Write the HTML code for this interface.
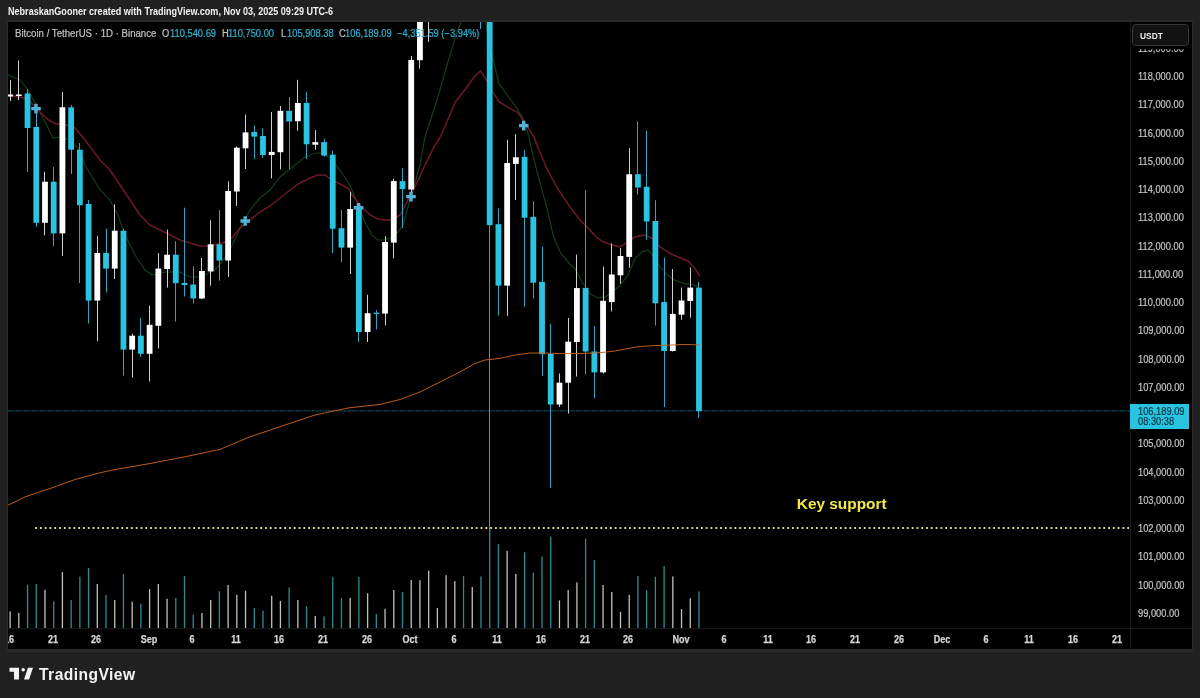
<!DOCTYPE html>
<html><head><meta charset="utf-8"><title>BTCUSDT chart</title>
<style>
html,body{margin:0;padding:0;}
body{width:1200px;height:698px;background:#202020;overflow:hidden;position:relative;font-family:"Liberation Sans",sans-serif;}
#hdr{position:absolute;left:8px;top:5.7px;font-size:10.2px;font-weight:bold;color:#f2f2f2;white-space:nowrap;line-height:12px;transform:scaleX(0.889);transform-origin:0 0;}
#chart{position:absolute;left:8px;top:22px;width:1184px;height:627px;background:#000;overflow:hidden;}
#chart svg{position:absolute;left:-8px;top:-22px;filter:blur(0.4px);}
#legend{position:absolute;left:-8px;top:5.8px;font-size:10px;color:#c2c2c2;white-space:nowrap;line-height:12px;-webkit-text-stroke:0.2px currentColor;}
#legend span{position:absolute;top:0;transform:scaleX(0.93);transform-origin:0 0;}
#legend .v{color:#2cb5d0;transform:scaleX(0.933);}
#axisv{position:absolute;left:1122px;top:0;width:1px;height:627px;background:#181818;}
#axish{position:absolute;left:0;top:605.5px;width:1184px;height:1px;background:#181818;}
.pl{position:absolute;left:1129.5px;font-size:10.5px;line-height:12px;color:#c6c6c6;white-space:nowrap;transform:scaleX(0.885);transform-origin:0 0;-webkit-text-stroke:0.2px currentColor;}
.tl{position:absolute;top:611.6px;font-size:10px;line-height:12px;color:#d6d6d6;white-space:nowrap;transform:translateX(-50%) scaleX(0.9);margin-left:-9px;font-weight:bold;-webkit-text-stroke:0.25px currentColor;}
#usdt{position:absolute;left:1124.2px;top:2.1px;width:56.8px;height:21.6px;border:1px solid #363636;border-radius:3.5px;background:#121212;box-sizing:border-box;box-shadow:0 3.2px 0 0 #000;z-index:3;}
#usdt span{position:absolute;left:6.8px;top:5.2px;font-size:9.8px;line-height:12px;color:#ededed;font-weight:bold;transform:scaleX(0.855);transform-origin:0 0;}
#plab{position:absolute;left:1122.3px;top:382px;width:59px;height:25px;background:#29c4e2;color:#06323d;font-size:10.5px;line-height:10.7px;-webkit-text-stroke:0.2px currentColor;}
#plab div{position:absolute;left:7.3px;white-space:nowrap;transform:scaleX(0.885);transform-origin:0 0;}
#key{position:absolute;left:788.8px;top:472.7px;font-size:15.4px;line-height:18px;font-weight:bold;color:#f2ea4a;white-space:nowrap;}
#logo{position:absolute;left:0;top:660px;}
#logot{position:absolute;left:39px;top:664.8px;font-size:15.6px;line-height:20px;font-weight:bold;color:#f4f4f4;letter-spacing:0.45px;white-space:nowrap;}
#band{position:absolute;left:7px;top:19.5px;width:1186px;height:632px;background:#282828;}
</style></head><body>
<div id="hdr">NebraskanGooner created with TradingView.com, Nov 03, 2025 09:29 UTC-6</div>
<div id="band"></div>
<div id="chart">
<svg width="1200" height="698" viewBox="0 0 1200 698">
<polyline points="8.0,75.0 20.0,80.0 28.0,90.0 36.0,105.0 45.0,122.0 53.0,138.0 58.0,137.0 70.0,140.0 80.0,150.0 85.0,165.0 88.0,170.0 100.0,190.0 110.0,200.0 118.0,215.0 125.0,235.0 135.0,255.0 145.0,270.0 152.0,275.0 165.0,272.0 180.0,272.0 190.0,277.0 200.0,277.0 205.0,275.0 215.0,270.0 222.0,262.0 230.0,250.0 240.0,228.0 250.0,210.0 260.0,198.0 270.0,190.0 280.0,177.0 295.0,165.0 305.0,157.0 315.0,153.0 322.0,153.0 330.0,158.0 340.0,170.0 348.0,182.0 352.0,190.0 358.0,205.0 365.0,222.0 372.0,235.0 378.0,240.0 385.0,240.0 390.0,238.0 398.0,232.0 403.0,225.0 408.0,207.0 413.0,190.0 420.0,165.0 425.0,137.0 437.0,100.0 447.0,65.0 455.4,36.8 465.5,10.0" fill="none" stroke="#153d19" stroke-width="1.2"/>
<polyline points="484.0,10.0 487.0,31.7 494.0,63.6 499.0,83.7 507.4,95.4 517.5,108.9 524.0,120.6 529.0,137.0 530.9,146.8 539.3,180.3 547.6,210.5 553.0,235.0 556.0,243.0 561.0,253.4 569.4,263.5 575.0,268.6 582.0,282.0 590.0,293.8 598.0,298.0 605.0,297.5 612.0,292.0 620.0,285.4 628.0,275.3 635.0,258.6 642.0,251.9 648.0,250.0 655.0,258.0 660.0,267.0 668.0,275.3 675.0,280.4 685.0,283.7 693.0,284.5 699.0,287.0" fill="none" stroke="#153d19" stroke-width="1.2"/>
<polyline points="8.0,95.0 20.0,97.0 28.0,99.0 36.0,108.0 45.0,117.0 50.0,121.0 56.0,124.0 62.0,124.0 70.0,126.0 75.0,128.0 85.0,140.0 100.0,160.0 110.0,170.0 120.0,185.0 130.0,200.0 140.0,215.0 150.0,225.0 160.0,230.0 170.0,235.0 180.0,240.0 190.0,243.0 200.0,246.0 208.0,246.0 215.0,245.0 225.0,242.0 232.0,238.0 240.0,228.0 250.0,220.0 260.0,212.0 270.0,206.0 280.0,198.0 290.0,190.0 300.0,183.0 310.0,178.0 318.0,175.0 325.0,175.0 332.0,180.0 340.0,184.0 348.0,188.0 352.0,195.0 360.0,205.0 370.0,215.0 378.0,219.0 385.0,220.0 390.0,220.0 395.0,218.0 400.0,215.0 408.0,200.0 415.0,187.0 425.0,165.0 435.0,145.0 440.4,137.0 455.4,102.0 467.0,87.0 474.0,77.0 480.6,71.0 485.6,78.7 494.0,93.8 499.0,102.0 510.8,108.9 517.5,112.0 525.8,124.0 534.0,137.0 537.6,146.8 547.6,170.2 557.7,188.7 560.0,192.0 570.0,207.0 580.0,220.0 585.0,225.0 590.0,230.0 596.0,236.8 603.0,241.8 612.0,245.1 620.0,246.8 628.0,241.8 635.0,236.8 645.0,235.0 652.0,238.4 660.0,246.8 670.0,253.5 680.0,257.7 688.0,261.0 695.0,268.6 700.0,276.0" fill="none" stroke="#6e1825" stroke-width="1.5"/>
<line x1="8" x2="1130" y1="410.9" y2="410.9" stroke="#2bb6d2" stroke-opacity="0.7" stroke-width="1" stroke-dasharray="0.9 0.7"/>
<rect x="9.45" y="611.3" width="1.3" height="16.7" fill="#c0c0bc"/>
<rect x="18.17" y="613.0" width="1.3" height="15.0" fill="#c0c0bc"/>
<rect x="26.89" y="584.8" width="1.3" height="43.2" fill="#2d8c93"/>
<rect x="35.61" y="584.1" width="1.3" height="43.9" fill="#2d8c93"/>
<rect x="44.33" y="589.8" width="1.3" height="38.2" fill="#c0c0bc"/>
<rect x="53.05" y="601.2" width="1.3" height="26.8" fill="#2d8c93"/>
<rect x="61.77" y="572.2" width="1.3" height="55.8" fill="#c0c0bc"/>
<rect x="70.49" y="600.0" width="1.3" height="28.0" fill="#2d8c93"/>
<rect x="79.21" y="576.6" width="1.3" height="51.4" fill="#2d8c93"/>
<rect x="87.93" y="568.0" width="1.3" height="60.0" fill="#2d8c93"/>
<rect x="96.65" y="584.0" width="1.3" height="44.0" fill="#c0c0bc"/>
<rect x="105.37" y="595.0" width="1.3" height="33.0" fill="#2d8c93"/>
<rect x="114.09" y="600.0" width="1.3" height="28.0" fill="#c0c0bc"/>
<rect x="122.81" y="573.9" width="1.3" height="54.1" fill="#2d8c93"/>
<rect x="131.53" y="601.7" width="1.3" height="26.3" fill="#c0c0bc"/>
<rect x="140.25" y="603.7" width="1.3" height="24.3" fill="#2d8c93"/>
<rect x="148.97" y="589.1" width="1.3" height="38.9" fill="#c0c0bc"/>
<rect x="157.69" y="584.0" width="1.3" height="44.0" fill="#c0c0bc"/>
<rect x="166.41" y="598.7" width="1.3" height="29.3" fill="#c0c0bc"/>
<rect x="175.13" y="597.9" width="1.3" height="30.1" fill="#2d8c93"/>
<rect x="183.85" y="576.1" width="1.3" height="51.9" fill="#2d8c93"/>
<rect x="192.57" y="614.6" width="1.3" height="13.4" fill="#2d8c93"/>
<rect x="201.29" y="613.0" width="1.3" height="15.0" fill="#c0c0bc"/>
<rect x="210.01" y="600.0" width="1.3" height="28.0" fill="#c0c0bc"/>
<rect x="218.73" y="591.2" width="1.3" height="36.8" fill="#2d8c93"/>
<rect x="227.45" y="585.0" width="1.3" height="43.0" fill="#c0c0bc"/>
<rect x="236.17" y="594.8" width="1.3" height="33.2" fill="#c0c0bc"/>
<rect x="244.89" y="590.7" width="1.3" height="37.3" fill="#c0c0bc"/>
<rect x="253.61" y="607.9" width="1.3" height="20.1" fill="#2d8c93"/>
<rect x="262.33" y="610.8" width="1.3" height="17.2" fill="#2d8c93"/>
<rect x="271.05" y="595.7" width="1.3" height="32.3" fill="#c0c0bc"/>
<rect x="279.77" y="600.9" width="1.3" height="27.1" fill="#c0c0bc"/>
<rect x="288.49" y="587.5" width="1.3" height="40.5" fill="#2d8c93"/>
<rect x="297.21" y="600.0" width="1.3" height="28.0" fill="#c0c0bc"/>
<rect x="305.93" y="606.2" width="1.3" height="21.8" fill="#2d8c93"/>
<rect x="314.65" y="616.0" width="1.3" height="12.0" fill="#c0c0bc"/>
<rect x="323.37" y="616.3" width="1.3" height="11.7" fill="#2d8c93"/>
<rect x="332.09" y="576.9" width="1.3" height="51.1" fill="#2d8c93"/>
<rect x="340.81" y="597.9" width="1.3" height="30.1" fill="#2d8c93"/>
<rect x="349.53" y="597.9" width="1.3" height="30.1" fill="#c0c0bc"/>
<rect x="358.25" y="576.9" width="1.3" height="51.1" fill="#2d8c93"/>
<rect x="366.97" y="593.2" width="1.3" height="34.8" fill="#c0c0bc"/>
<rect x="375.69" y="613.8" width="1.3" height="14.2" fill="#2d8c93"/>
<rect x="384.41" y="608.8" width="1.3" height="19.2" fill="#c0c0bc"/>
<rect x="393.13" y="590.0" width="1.3" height="38.0" fill="#c0c0bc"/>
<rect x="401.85" y="592.0" width="1.3" height="36.0" fill="#2d8c93"/>
<rect x="410.57" y="579.9" width="1.3" height="48.1" fill="#c0c0bc"/>
<rect x="419.29" y="580.3" width="1.3" height="47.7" fill="#c0c0bc"/>
<rect x="428.01" y="570.7" width="1.3" height="57.3" fill="#c0c0bc"/>
<rect x="436.73" y="607.9" width="1.3" height="20.1" fill="#c0c0bc"/>
<rect x="445.45" y="575.2" width="1.3" height="52.8" fill="#c0c0bc"/>
<rect x="454.17" y="581.1" width="1.3" height="46.9" fill="#c0c0bc"/>
<rect x="462.89" y="576.1" width="1.3" height="51.9" fill="#2d8c93"/>
<rect x="471.61" y="587.0" width="1.3" height="41.0" fill="#c0c0bc"/>
<rect x="480.33" y="576.4" width="1.3" height="51.6" fill="#2d8c93"/>
<rect x="489.05" y="529.0" width="1.3" height="99.0" fill="#2d8c93"/>
<rect x="497.77" y="544.2" width="1.3" height="83.8" fill="#2d8c93"/>
<rect x="506.49" y="550.9" width="1.3" height="77.1" fill="#c0c0bc"/>
<rect x="515.21" y="573.9" width="1.3" height="54.1" fill="#c0c0bc"/>
<rect x="523.93" y="552.3" width="1.3" height="75.7" fill="#2d8c93"/>
<rect x="532.65" y="572.7" width="1.3" height="55.3" fill="#2d8c93"/>
<rect x="541.37" y="556.5" width="1.3" height="71.5" fill="#2d8c93"/>
<rect x="550.09" y="536.7" width="1.3" height="91.3" fill="#2d8c93"/>
<rect x="558.81" y="600.4" width="1.3" height="27.6" fill="#c0c0bc"/>
<rect x="567.53" y="590.0" width="1.3" height="38.0" fill="#c0c0bc"/>
<rect x="576.25" y="582.4" width="1.3" height="45.6" fill="#c0c0bc"/>
<rect x="584.97" y="538.7" width="1.3" height="89.3" fill="#2d8c93"/>
<rect x="593.69" y="560.1" width="1.3" height="67.9" fill="#2d8c93"/>
<rect x="602.41" y="585.0" width="1.3" height="43.0" fill="#c0c0bc"/>
<rect x="611.13" y="592.0" width="1.3" height="36.0" fill="#c0c0bc"/>
<rect x="619.85" y="611.8" width="1.3" height="16.2" fill="#c0c0bc"/>
<rect x="628.57" y="594.8" width="1.3" height="33.2" fill="#c0c0bc"/>
<rect x="637.29" y="576.1" width="1.3" height="51.9" fill="#2d8c93"/>
<rect x="646.01" y="590.0" width="1.3" height="38.0" fill="#2d8c93"/>
<rect x="654.73" y="576.9" width="1.3" height="51.1" fill="#2d8c93"/>
<rect x="663.45" y="566.0" width="1.3" height="62.0" fill="#2d8c93"/>
<rect x="672.17" y="576.4" width="1.3" height="51.6" fill="#c0c0bc"/>
<rect x="680.89" y="609.1" width="1.3" height="18.9" fill="#c0c0bc"/>
<rect x="689.61" y="598.2" width="1.3" height="29.8" fill="#c0c0bc"/>
<rect x="698.33" y="591.5" width="1.3" height="36.5" fill="#2d8c93"/>
<rect x="10" y="80.0" width="1" height="21.0" fill="#d0d0d0"/>
<rect x="7.20" y="94.5" width="5.8" height="2.0" fill="#ffffff"/>
<rect x="18" y="60.5" width="1" height="39.5" fill="#d0d0d0"/>
<rect x="15.92" y="94.5" width="5.8" height="1.5" fill="#ffffff"/>
<rect x="27" y="89.0" width="1" height="83.0" fill="#2aa8c3"/>
<rect x="24.64" y="93.5" width="5.8" height="34.5" fill="#29c4e2"/>
<rect x="36" y="108.0" width="1" height="119.0" fill="#2aa8c3"/>
<rect x="33.36" y="127.0" width="5.8" height="95.8" fill="#29c4e2"/>
<rect x="44" y="171.7" width="1" height="63.7" fill="#d0d0d0"/>
<rect x="42.08" y="181.7" width="5.8" height="41.1" fill="#ffffff"/>
<rect x="53" y="167.0" width="1" height="79.3" fill="#2aa8c3"/>
<rect x="50.80" y="181.7" width="5.8" height="51.7" fill="#29c4e2"/>
<rect x="62" y="91.9" width="1" height="163.9" fill="#d0d0d0"/>
<rect x="59.52" y="107.3" width="5.8" height="126.1" fill="#ffffff"/>
<rect x="71" y="105.0" width="1" height="69.0" fill="#2aa8c3"/>
<rect x="68.24" y="107.3" width="5.8" height="42.4" fill="#29c4e2"/>
<rect x="79" y="143.0" width="1" height="140.0" fill="#2aa8c3"/>
<rect x="76.96" y="149.7" width="5.8" height="55.5" fill="#29c4e2"/>
<rect x="88" y="200.0" width="1" height="123.6" fill="#2aa8c3"/>
<rect x="85.68" y="204.0" width="5.8" height="96.6" fill="#29c4e2"/>
<rect x="97" y="236.0" width="1" height="105.2" fill="#d0d0d0"/>
<rect x="94.40" y="253.0" width="5.8" height="47.6" fill="#ffffff"/>
<rect x="106" y="228.7" width="1" height="63.9" fill="#2aa8c3"/>
<rect x="103.12" y="253.0" width="5.8" height="15.6" fill="#29c4e2"/>
<rect x="114" y="204.4" width="1" height="74.6" fill="#d0d0d0"/>
<rect x="111.84" y="230.7" width="5.8" height="37.9" fill="#ffffff"/>
<rect x="123" y="228.7" width="1" height="146.9" fill="#2aa8c3"/>
<rect x="120.56" y="230.7" width="5.8" height="118.9" fill="#29c4e2"/>
<rect x="132" y="333.7" width="1" height="43.9" fill="#d0d0d0"/>
<rect x="129.28" y="335.7" width="5.8" height="13.9" fill="#ffffff"/>
<rect x="140" y="317.7" width="1" height="39.3" fill="#2aa8c3"/>
<rect x="138.00" y="335.7" width="5.8" height="18.1" fill="#29c4e2"/>
<rect x="149" y="305.7" width="1" height="75.8" fill="#d0d0d0"/>
<rect x="146.72" y="324.8" width="5.8" height="29.0" fill="#ffffff"/>
<rect x="158" y="253.0" width="1" height="95.4" fill="#d0d0d0"/>
<rect x="155.44" y="268.6" width="5.8" height="57.2" fill="#ffffff"/>
<rect x="167" y="229.5" width="1" height="58.1" fill="#d0d0d0"/>
<rect x="164.16" y="254.7" width="5.8" height="14.3" fill="#ffffff"/>
<rect x="175" y="241.2" width="1" height="80.4" fill="#2aa8c3"/>
<rect x="172.88" y="254.7" width="5.8" height="28.5" fill="#29c4e2"/>
<rect x="184" y="207.7" width="1" height="88.8" fill="#2aa8c3"/>
<rect x="181.60" y="283.0" width="5.8" height="2.0" fill="#29c4e2"/>
<rect x="193" y="266.4" width="1" height="37.1" fill="#2aa8c3"/>
<rect x="190.32" y="284.5" width="5.8" height="14.0" fill="#29c4e2"/>
<rect x="201" y="258.0" width="1" height="41.0" fill="#d0d0d0"/>
<rect x="199.04" y="271.0" width="5.8" height="27.5" fill="#ffffff"/>
<rect x="210" y="220.3" width="1" height="65.4" fill="#d0d0d0"/>
<rect x="207.76" y="244.3" width="5.8" height="27.1" fill="#ffffff"/>
<rect x="219" y="210.0" width="1" height="70.6" fill="#2aa8c3"/>
<rect x="216.48" y="244.3" width="5.8" height="16.2" fill="#29c4e2"/>
<rect x="228" y="181.4" width="1" height="95.6" fill="#d0d0d0"/>
<rect x="225.20" y="191.0" width="5.8" height="69.5" fill="#ffffff"/>
<rect x="236" y="146.5" width="1" height="59.5" fill="#d0d0d0"/>
<rect x="233.92" y="147.7" width="5.8" height="43.8" fill="#ffffff"/>
<rect x="245" y="114.5" width="1" height="54.5" fill="#d0d0d0"/>
<rect x="242.64" y="132.4" width="5.8" height="15.9" fill="#ffffff"/>
<rect x="254" y="125.4" width="1" height="33.6" fill="#2aa8c3"/>
<rect x="251.36" y="132.0" width="5.8" height="4.6" fill="#29c4e2"/>
<rect x="262" y="128.4" width="1" height="29.6" fill="#2aa8c3"/>
<rect x="260.08" y="136.0" width="5.8" height="19.0" fill="#29c4e2"/>
<rect x="271" y="112.0" width="1" height="66.4" fill="#d0d0d0"/>
<rect x="268.80" y="151.9" width="5.8" height="3.1" fill="#ffffff"/>
<rect x="280" y="106.0" width="1" height="63.3" fill="#d0d0d0"/>
<rect x="277.52" y="110.8" width="5.8" height="41.4" fill="#ffffff"/>
<rect x="289" y="97.2" width="1" height="71.8" fill="#2aa8c3"/>
<rect x="286.24" y="110.8" width="5.8" height="10.7" fill="#29c4e2"/>
<rect x="297" y="79.8" width="1" height="50.9" fill="#d0d0d0"/>
<rect x="294.96" y="103.0" width="5.8" height="18.2" fill="#ffffff"/>
<rect x="306" y="91.9" width="1" height="67.1" fill="#2aa8c3"/>
<rect x="303.68" y="103.0" width="5.8" height="41.3" fill="#29c4e2"/>
<rect x="315" y="130.0" width="1" height="19.7" fill="#d0d0d0"/>
<rect x="312.40" y="142.1" width="5.8" height="2.6" fill="#ffffff"/>
<rect x="324" y="138.8" width="1" height="17.7" fill="#2aa8c3"/>
<rect x="321.12" y="142.1" width="5.8" height="13.5" fill="#29c4e2"/>
<rect x="332" y="151.0" width="1" height="102.0" fill="#2aa8c3"/>
<rect x="329.84" y="154.7" width="5.8" height="74.0" fill="#29c4e2"/>
<rect x="341" y="210.0" width="1" height="52.2" fill="#2aa8c3"/>
<rect x="338.56" y="228.2" width="5.8" height="19.4" fill="#29c4e2"/>
<rect x="350" y="191.8" width="1" height="82.2" fill="#d0d0d0"/>
<rect x="347.28" y="209.0" width="5.8" height="38.6" fill="#ffffff"/>
<rect x="358" y="203.5" width="1" height="138.5" fill="#2aa8c3"/>
<rect x="356.00" y="209.0" width="5.8" height="123.0" fill="#29c4e2"/>
<rect x="367" y="294.8" width="1" height="47.2" fill="#d0d0d0"/>
<rect x="364.72" y="313.2" width="5.8" height="18.8" fill="#ffffff"/>
<rect x="376" y="310.2" width="1" height="19.3" fill="#2aa8c3"/>
<rect x="373.44" y="312.7" width="5.8" height="1.2" fill="#29c4e2"/>
<rect x="385" y="236.2" width="1" height="89.1" fill="#d0d0d0"/>
<rect x="382.16" y="242.0" width="5.8" height="71.6" fill="#ffffff"/>
<rect x="393" y="178.6" width="1" height="79.8" fill="#d0d0d0"/>
<rect x="390.88" y="181.1" width="5.8" height="61.5" fill="#ffffff"/>
<rect x="402" y="168.2" width="1" height="59.8" fill="#2aa8c3"/>
<rect x="399.60" y="181.1" width="5.8" height="7.9" fill="#29c4e2"/>
<rect x="411" y="56.0" width="1" height="136.4" fill="#d0d0d0"/>
<rect x="408.32" y="59.9" width="5.8" height="129.6" fill="#ffffff"/>
<rect x="419" y="10.0" width="1" height="58.6" fill="#d0d0d0"/>
<rect x="417.04" y="10.0" width="5.8" height="50.2" fill="#ffffff"/>
<rect x="428" y="5.0" width="1" height="36.8" fill="#d0d0d0"/>
<rect x="425.76" y="5.0" width="5.8" height="3.0" fill="#ffffff"/>
<rect x="480" y="5.0" width="1" height="24.0" fill="#2aa8c3"/>
<rect x="478.08" y="5.0" width="5.8" height="3.0" fill="#29c4e2"/>
<rect x="489" y="5.0" width="1" height="524.0" fill="#2aa8c3"/>
<rect x="486.80" y="5.0" width="5.8" height="220.2" fill="#29c4e2"/>
<rect x="498" y="208.5" width="1" height="106.9" fill="#2aa8c3"/>
<rect x="495.52" y="224.2" width="5.8" height="61.4" fill="#29c4e2"/>
<rect x="507" y="139.7" width="1" height="176.1" fill="#d0d0d0"/>
<rect x="504.24" y="163.0" width="5.8" height="122.6" fill="#ffffff"/>
<rect x="515" y="134.2" width="1" height="65.8" fill="#d0d0d0"/>
<rect x="512.96" y="157.2" width="5.8" height="6.7" fill="#ffffff"/>
<rect x="524" y="149.8" width="1" height="156.9" fill="#2aa8c3"/>
<rect x="521.68" y="156.8" width="5.8" height="60.9" fill="#29c4e2"/>
<rect x="533" y="201.2" width="1" height="97.5" fill="#2aa8c3"/>
<rect x="530.40" y="216.8" width="5.8" height="65.9" fill="#29c4e2"/>
<rect x="542" y="246.7" width="1" height="129.3" fill="#2aa8c3"/>
<rect x="539.12" y="281.9" width="5.8" height="72.3" fill="#29c4e2"/>
<rect x="550" y="323.8" width="1" height="163.9" fill="#2aa8c3"/>
<rect x="547.84" y="353.9" width="5.8" height="50.6" fill="#29c4e2"/>
<rect x="559" y="373.5" width="1" height="33.5" fill="#d0d0d0"/>
<rect x="556.56" y="382.7" width="5.8" height="21.8" fill="#ffffff"/>
<rect x="568" y="318.0" width="1" height="95.5" fill="#d0d0d0"/>
<rect x="565.28" y="341.7" width="5.8" height="41.0" fill="#ffffff"/>
<rect x="576" y="254.6" width="1" height="121.9" fill="#d0d0d0"/>
<rect x="574.00" y="288.1" width="5.8" height="53.9" fill="#ffffff"/>
<rect x="585" y="190.1" width="1" height="184.4" fill="#2aa8c3"/>
<rect x="582.72" y="287.9" width="5.8" height="63.6" fill="#29c4e2"/>
<rect x="594" y="326.0" width="1" height="72.0" fill="#2aa8c3"/>
<rect x="591.44" y="351.5" width="5.8" height="20.9" fill="#29c4e2"/>
<rect x="603" y="266.6" width="1" height="106.9" fill="#d0d0d0"/>
<rect x="600.16" y="300.8" width="5.8" height="71.6" fill="#ffffff"/>
<rect x="611" y="243.5" width="1" height="67.9" fill="#d0d0d0"/>
<rect x="608.88" y="274.5" width="5.8" height="27.6" fill="#ffffff"/>
<rect x="620" y="248.2" width="1" height="35.5" fill="#d0d0d0"/>
<rect x="617.60" y="256.0" width="5.8" height="19.3" fill="#ffffff"/>
<rect x="629" y="148.2" width="1" height="119.6" fill="#d0d0d0"/>
<rect x="626.32" y="174.2" width="5.8" height="82.7" fill="#ffffff"/>
<rect x="637" y="121.4" width="1" height="73.3" fill="#2aa8c3"/>
<rect x="635.04" y="174.2" width="5.8" height="13.3" fill="#29c4e2"/>
<rect x="646" y="130.5" width="1" height="109.3" fill="#2aa8c3"/>
<rect x="643.76" y="186.8" width="5.8" height="34.7" fill="#29c4e2"/>
<rect x="655" y="200.2" width="1" height="125.4" fill="#2aa8c3"/>
<rect x="652.48" y="221.0" width="5.8" height="82.3" fill="#29c4e2"/>
<rect x="664" y="257.7" width="1" height="149.4" fill="#2aa8c3"/>
<rect x="661.20" y="302.1" width="5.8" height="48.9" fill="#29c4e2"/>
<rect x="672" y="269.1" width="1" height="82.4" fill="#d0d0d0"/>
<rect x="669.92" y="313.9" width="5.8" height="37.1" fill="#ffffff"/>
<rect x="681" y="287.6" width="1" height="32.1" fill="#d0d0d0"/>
<rect x="678.64" y="300.5" width="5.8" height="14.2" fill="#ffffff"/>
<rect x="690" y="267.4" width="1" height="50.3" fill="#d0d0d0"/>
<rect x="687.36" y="287.6" width="5.8" height="13.4" fill="#ffffff"/>
<rect x="698" y="281.7" width="1" height="136.3" fill="#2aa8c3"/>
<rect x="696.08" y="287.6" width="5.8" height="123.4" fill="#29c4e2"/>
<polyline points="8.0,505.2 25.0,496.9 50.0,488.5 75.0,479.5 100.0,472.8 115.0,469.5 150.0,463.5 185.0,456.8 220.0,449.4 250.0,436.8 285.0,425.0 315.0,415.0 335.0,410.7 350.0,407.7 375.0,405.0 380.0,404.5 400.0,399.5 420.0,392.0 440.0,382.0 460.0,371.9 475.0,363.5 485.0,360.0 500.0,358.4 515.0,355.0 530.0,353.0 545.0,353.0 560.0,353.6 580.0,353.5 600.0,352.7 615.0,351.0 630.0,348.1 640.0,346.5 655.0,345.6 670.0,345.1 685.0,344.4 695.0,344.8 700.0,345.0" fill="none" stroke="#c6611c" stroke-width="0.95"/>
<path d="M31.2 106.9h3.1v-3.1h3.4v3.1h3.1v3.4h-3.1v3.1h-3.4v-3.1h-3.1z" fill="#4fb2d6"/>
<path d="M240.4 219.3h3.1v-3.1h3.4v3.1h3.1v3.4h-3.1v3.1h-3.4v-3.1h-3.1z" fill="#4fb2d6"/>
<path d="M353.7 206.0h3.1v-3.1h3.4v3.1h3.1v3.4h-3.1v3.1h-3.4v-3.1h-3.1z" fill="#4fb2d6"/>
<path d="M406.2 194.9h3.1v-3.1h3.4v3.1h3.1v3.4h-3.1v3.1h-3.4v-3.1h-3.1z" fill="#4fb2d6"/>
<path d="M518.9 123.9h3.1v-3.1h3.4v3.1h3.1v3.4h-3.1v3.1h-3.4v-3.1h-3.1z" fill="#4fb2d6"/>
<line x1="36" x2="1130" y1="528" y2="528" stroke="#e9e3a3" stroke-width="2.2" stroke-linecap="round" stroke-dasharray="0.1 4.69"/>
</svg>
<div id="axisv"></div><div id="axish"></div>
<div id="legend"><span style="left:14.5px;transform:scaleX(0.965)">Bitcoin / TetherUS · 1D · Binance</span><span style="left:161.5px">O</span><span class="v" style="left:169.7px">110,540.69</span><span style="left:221.7px">H</span><span class="v" style="left:228.3px">110,750.00</span><span style="left:281.3px">L</span><span class="v" style="left:286.7px">105,908.38</span><span style="left:339.2px">C</span><span class="v" style="left:344.7px">106,189.09</span><span class="v" style="left:397.2px">−4,351.59 (−3.94%)</span></div>
<div class="pl" style="top:19.8px">119,000.00</div>
<div class="pl" style="top:48.0px">118,000.00</div>
<div class="pl" style="top:76.3px">117,000.00</div>
<div class="pl" style="top:104.5px">116,000.00</div>
<div class="pl" style="top:132.8px">115,000.00</div>
<div class="pl" style="top:161.1px">114,000.00</div>
<div class="pl" style="top:189.3px">113,000.00</div>
<div class="pl" style="top:217.6px">112,000.00</div>
<div class="pl" style="top:245.8px">111,000.00</div>
<div class="pl" style="top:274.1px">110,000.00</div>
<div class="pl" style="top:302.4px">109,000.00</div>
<div class="pl" style="top:330.6px">108,000.00</div>
<div class="pl" style="top:358.9px">107,000.00</div>
<div class="pl" style="top:415.4px">105,000.00</div>
<div class="pl" style="top:443.7px">104,000.00</div>
<div class="pl" style="top:471.9px">103,000.00</div>
<div class="pl" style="top:500.2px">102,000.00</div>
<div class="pl" style="top:528.4px">101,000.00</div>
<div class="pl" style="top:556.7px">100,000.00</div>
<div class="pl" style="top:585.0px">99,000.00</div>

<div id="usdt"><span>USDT</span></div>
<div id="plab"><div style="top:1.5px">106,189.09</div><div style="top:12.2px">08:30:38</div></div>
<div class="tl" style="left:10.1px">16</div>
<div class="tl" style="left:53.7px">21</div>
<div class="tl" style="left:97.3px">26</div>
<div class="tl" style="left:149.6px">Sep</div>
<div class="tl" style="left:193.2px">6</div>
<div class="tl" style="left:236.8px">11</div>
<div class="tl" style="left:280.4px">16</div>
<div class="tl" style="left:324.0px">21</div>
<div class="tl" style="left:367.6px">26</div>
<div class="tl" style="left:411.2px">Oct</div>
<div class="tl" style="left:454.8px">6</div>
<div class="tl" style="left:498.4px">11</div>
<div class="tl" style="left:542.0px">16</div>
<div class="tl" style="left:585.6px">21</div>
<div class="tl" style="left:629.2px">26</div>
<div class="tl" style="left:681.5px">Nov</div>
<div class="tl" style="left:725.1px">6</div>
<div class="tl" style="left:768.7px">11</div>
<div class="tl" style="left:812.3px">16</div>
<div class="tl" style="left:855.9px">21</div>
<div class="tl" style="left:899.5px">26</div>
<div class="tl" style="left:943.1px">Dec</div>
<div class="tl" style="left:986.7px">6</div>
<div class="tl" style="left:1030.3px">11</div>
<div class="tl" style="left:1073.9px">16</div>
<div class="tl" style="left:1117.5px">21</div>

<div id="key">Key support</div>
</div>
<svg id="logo" width="40" height="20" viewBox="0 660 40 20"><path d="M9.5 667.75H19V679.5H14V671.7H9.5Z" fill="#f4f4f4"/><circle cx="23.2" cy="669.7" r="1.75" fill="#f4f4f4"/><path d="M28 667.75H33L29 679.5H24Z" fill="#f4f4f4"/></svg>
<div id="logot">TradingView</div>
</body></html>
